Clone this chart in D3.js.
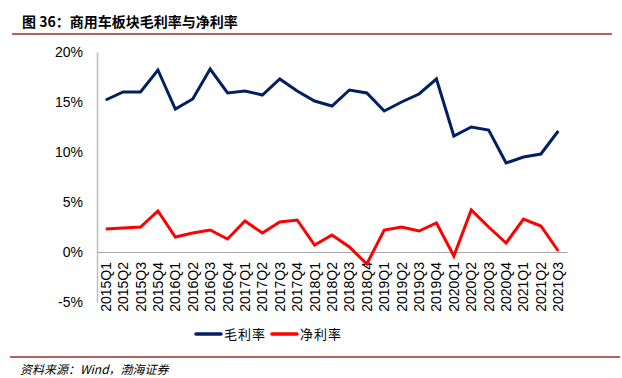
<!DOCTYPE html>
<html><head><meta charset="utf-8">
<script src="https://cdn.jsdelivr.net/npm/d3@7"></script>
<style>body{margin:0;background:#fff}svg{display:block}</style>
</head><body>
<svg id="c" width="622" height="378"></svg>
<script>
const categories = ["2015Q1","2015Q2","2015Q3","2015Q4","2016Q1","2016Q2","2016Q3","2016Q4","2017Q1","2017Q2","2017Q3","2017Q4","2018Q1","2018Q2","2018Q3","2018Q4","2019Q1","2019Q2","2019Q3","2019Q4","2020Q1","2020Q2","2020Q3","2020Q4","2021Q1","2021Q2","2021Q3"];
const grossMargin = [15.2,16.0,16.0,18.2,14.3,15.3,18.3,15.9,16.1,15.7,17.3,16.1,15.1,14.6,16.2,15.9,14.1,15.0,15.8,17.3,11.6,12.5,12.2,8.9,9.5,9.8,12.1];
const netMargin = [2.3,2.4,2.5,4.1,1.5,1.9,2.2,1.3,3.1,1.9,3.0,3.2,0.7,1.7,0.5,-1.2,2.2,2.5,2.1,2.9,-0.4,4.2,2.5,0.9,3.3,2.6,0.1];
const yTicks = [-5,0,5,10,15,20];
const seriesNames = ["毛利率","净利率"];
const colors = ["#002060","#FF0000"];

const svg = d3.select("#c");
const x = d3.scaleBand().domain(categories).range([97,567]);
const y = d3.scaleLinear().domain([-5,20]).range([302,52]);

// title
svg.append("text").attr("x",22).attr("y",27)
  .style("font-family","'Noto Sans CJK SC'").style("font-weight","bold").style("font-size","14px")
  .attr("fill","#000").text("图 36：商用车板块毛利率与净利率");
svg.append("line").attr("x1",12).attr("x2",612).attr("y1",34).attr("y2",34).attr("stroke","#9B2C2C").attr("stroke-width",1.5);

// y axis
const yAxis = d3.axisLeft(y).tickValues(yTicks).tickSize(0).tickPadding(14).tickFormat(d=>d+"%");
const gy = svg.append("g").attr("transform","translate(97,0)").call(yAxis);
gy.select(".domain").attr("stroke","#BFBFBF").attr("stroke-width",1.5);
gy.selectAll("text").style("font-family","'Liberation Sans',Arial").style("font-size","14px").attr("fill","#000");

// zero line + x axis labels
const xAxis = d3.axisBottom(x).tickSize(0).tickPadding(0);
const gx = svg.append("g").attr("transform",`translate(0,${y(0)})`).call(xAxis);
gx.select(".domain").attr("stroke","#A6A6A6").attr("stroke-width",1.2);
gx.selectAll("text").remove();
svg.append("g").selectAll("text").data(categories).join("text")
  .attr("transform",d=>`translate(${x(d)+x.bandwidth()/2+5},262) rotate(-90)`)
  .attr("text-anchor","end")
  .style("font-family","'Liberation Sans',Arial").style("font-size","14px").attr("fill","#000")
  .text(d=>d);

// lines
const line = d3.line().x((d,i)=>x(categories[i])+x.bandwidth()/2).y(d=>y(d));
[grossMargin,netMargin].forEach((s,k)=>{
  svg.append("path").datum(s).attr("d",line).attr("fill","none")
    .attr("stroke",colors[k]).attr("stroke-width",3).attr("stroke-linejoin","miter");
});

// legend
const lg = [{x:196},{x:272}];
lg.forEach((p,k)=>{
  svg.append("line").attr("x1",p.x).attr("x2",p.x+25).attr("y1",334).attr("y2",334)
    .attr("stroke",colors[k]).attr("stroke-width",3.5).attr("stroke-linecap","round");
  svg.append("text").attr("x",p.x+28).attr("y",339)
    .style("font-family","'Noto Sans CJK SC'").style("font-size","13px").style("letter-spacing","1px").attr("fill","#000").text(seriesNames[k]);
});

// footer
svg.append("line").attr("x1",10).attr("x2",620).attr("y1",357).attr("y2",357).attr("stroke","#9B2C2C").attr("stroke-width",1.5);
svg.append("text").attr("x",20).attr("y",374)
  .style("font-family","'Noto Sans CJK SC'").style("font-style","italic").style("font-size","12px").attr("fill","#000")
  .text("资料来源：Wind，渤海证券");
</script>
</body></html>
